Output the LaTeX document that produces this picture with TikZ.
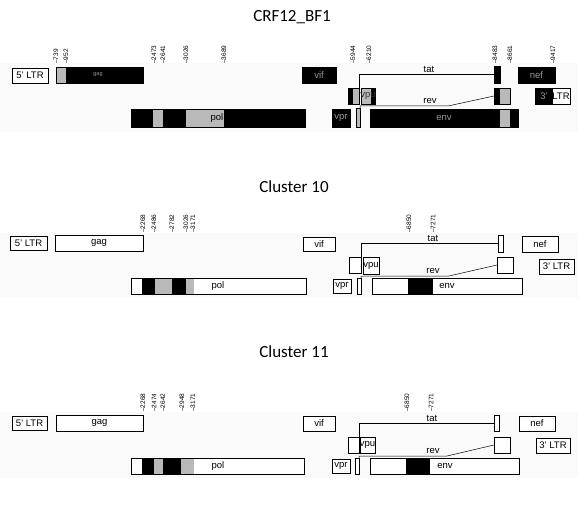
\documentclass[tikz,border=0pt]{standalone}
\usepackage{fontspec}
\setmainfont{Liberation Sans}
\newfontfamily\titlefont{Carlito}
\definecolor{segg}{RGB}{185,185,185}
\definecolor{dimtxt}{RGB}{150,150,150}
\definecolor{band}{RGB}{250,250,250}
\tikzset{
  box/.style={draw=black, line width=0.5pt, inner sep=0pt, outer sep=0pt, fill=white, font=\fontsize{9.5}{10}\selectfont},
  blk/.style={fill=black, text=dimtxt},
  gry/.style={fill=segg},
  lab/.style={font=\fontsize{9.5}{10}\selectfont, inner sep=0pt},
  ttl/.style={font=\titlefont\fontsize{17}{19}\selectfont, inner sep=0pt},
  tick/.style={rotate=90, anchor=west, inner sep=0pt, font=\fontsize{6.5}{7}\selectfont},
  conn/.style={draw=black, line width=0.5pt}
}
\newcommand{\bx}[7][]{%
  \node[box,#1,minimum width={(#5-#3)*1pt},minimum height={(#6-#4)*1pt}] (#2) at ({(#3+#5)/2},{(#4+#6)/2}) {#7};}
\newcommand{\frm}[1]{\draw[line width=0.5pt] (#1.north west) rectangle (#1.south east);}
\begin{document}
\begin{tikzpicture}[x=1pt,y=-1pt]
\useasboundingbox (0,0) rectangle (588,521);
\fill[white] (0,0) rectangle (588,521);
% faint bands
\fill[band] (0,63) rectangle (578,132);
\fill[band] (0,233) rectangle (578,298);
\fill[band] (0,412) rectangle (578,478);

% ================= CRF12_BF1 =================
\node[ttl] (t1) at (292,17) {CRF12\_BF1};
\foreach \x/\n in {56/739,66/952,154/2473,163/2641,186/3026,224/3689,353/5944,369/6210,495/8483,510/8661,553/9417}
  \node[tick] (k1-\n) at (\x,64) {–\n};
% row 1
\bx{la1}{12}{68}{48}{83}{5' LTR}
\bx[blk]{gag1}{56}{67}{143}{83}{}
\fill[segg] (56,67) rectangle (66,83);
\frm{gag1}
\node[lab, text=dimtxt, font=\fontsize{5.5}{6}\selectfont] (gagt1) at (98,75) {gag};
\bx[blk]{vif1}{302}{67}{336}{83}{vif}
\bx[blk]{tat1}{494}{66}{500}{83}{}
\bx[blk]{nef1}{518}{67}{555}{83}{nef}
% row 2
\bx[blk]{e1}{348}{88}{359}{104}{}
\fill[segg] (353,88) rectangle (359,104);
\frm{e1}
\bx[gry]{vpu1}{361}{88}{375}{104}{}
\fill[black] (371,88) rectangle (375,104);
\frm{vpu1}
\node[lab, text=black!80] (vput1) at (368,96) {vpu};
\bx[blk]{rv1}{494}{88}{510}{104}{}
\fill[segg] (500,88) rectangle (510,104);
\frm{rv1}
\bx{lb1}{535}{88}{570}{104}{}
\fill[black] (535,88) rectangle (553,104);
\frm{lb1}
\node[lab, text=dimtxt] (lb1a) at (544,96) {3'};
\node[lab] (lb1b) at (561,96) {LTR};
% row 3
\bx[blk]{pol1}{131}{109}{305}{127}{}
\fill[segg] (153,109) rectangle (163,127);
\fill[segg] (186,109) rectangle (224,127);
\frm{pol1}
\node[lab] (polt1) at (217,118) {pol};
\bx[blk]{vpr1}{332}{109}{350}{127}{vpr}
\bx[gry]{r1}{356}{108}{360}{127}{}
\bx[blk]{env1}{370}{109}{518}{127}{}
\fill[segg] (500,109) rectangle (510,127);
\frm{env1}
\node[lab, text=dimtxt] (envt1) at (444,118) {env};
% connectors
\draw[conn] (e1.north east) |- (tat1.west);
\node[lab] (tatl1) at (429,69) {tat};
\draw[conn] (r1.north east) -- ++(0,-2) -- ++(88,0) -- (rv1.west);
\node[lab] (revl1) at (430,101) {rev};

% ================= Cluster 10 =================
\node[ttl] (t2) at (294,187) {Cluster 10};
\foreach \x/\n in {143/2268,154/2486,172/2782,186/3026,193/3171,409/6850,433/7271}
  \node[tick] (k2-\n) at (\x,233) {–\n};
\bx{la2}{10}{236}{47}{250}{5' LTR}
\bx{gag2}{55}{235}{143}{251}{gag}
\bx{vif2}{303}{237}{335}{251}{vif}
\bx{tat2}{498}{235}{503}{252}{}
\bx{nef2}{522}{236}{558}{252}{nef}
\bx{e2}{349}{257}{361}{273}{}
\bx{vpu2}{363}{257}{379}{274}{vpu}
\bx{rv2}{497}{257}{513}{273}{}
\bx{lb2}{539}{259}{574}{274}{3' LTR}
\bx{pol2}{131}{278}{306}{294}{}
\fill[black] (142,278) rectangle (155,294);
\fill[segg] (155,278) rectangle (172,294);
\fill[black] (172,278) rectangle (186,294);
\fill[segg] (186,278) rectangle (194,294);
\frm{pol2}
\node[lab] (polt2) at (218,286) {pol};
\bx{vpr2}{333}{279}{351}{293}{vpr}
\bx{r2}{357}{278}{361}{294}{}
\bx{env2}{372}{278}{522}{294}{}
\fill[black] (408,278) rectangle (433,294);
\frm{env2}
\node[lab] (envt2) at (447,286) {env};
\draw[conn] (e2.north east) |- (tat2.west);
\node[lab] (tatl2) at (433,238) {tat};
\draw[conn] (r2.north east) -- ++(0,-2) -- ++(88,0) -- (rv2.west);
\node[lab] (revl2) at (433,271) {rev};

% ================= Cluster 11 =================
\node[ttl] (t3) at (294,352) {Cluster 11};
\foreach \x/\n in {143/2268,154/2474,163/2642,182/2948,193/3171,407/6850,431/7271}
  \node[tick] (k3-\n) at (\x,412) {–\n};
\bx{la3}{12}{416}{47}{430}{5' LTR}
\bx{gag3}{56}{415}{143}{431}{gag}
\bx{vif3}{303}{416}{335}{431}{vif}
\bx{tat3}{494}{415}{499}{431}{}
\bx{nef3}{519}{416}{555}{431}{nef}
\bx{e3}{348}{437}{359}{453}{}
\bx{vpu3}{360}{437}{375}{453}{vpu}
\bx{rv3}{494}{437}{510}{453}{}
\bx{lb3}{536}{438}{570}{453}{3' LTR}
\bx{pol3}{131}{458}{304}{474}{}
\fill[black] (142,458) rectangle (154,474);
\fill[segg] (154,458) rectangle (163,474);
\fill[black] (163,458) rectangle (181,474);
\fill[segg] (181,458) rectangle (194,474);
\frm{pol3}
\node[lab] (polt3) at (218,466) {pol};
\bx{vpr3}{332}{459}{350}{473}{vpr}
\bx{r3}{355}{458}{359}{474}{}
\bx{env3}{370}{458}{519}{474}{}
\fill[black] (406,458) rectangle (430,474);
\frm{env3}
\node[lab] (envt3) at (445,466) {env};
\draw[conn] (e3.north east) |- (tat3.west);
\node[lab] (tatl3) at (432,418) {tat};
\draw[conn] (r3.north east) -- ++(0,-2) -- ++(88,0) -- (rv3.west);
\node[lab] (revl3) at (433,451) {rev};
\end{tikzpicture}
\end{document}
